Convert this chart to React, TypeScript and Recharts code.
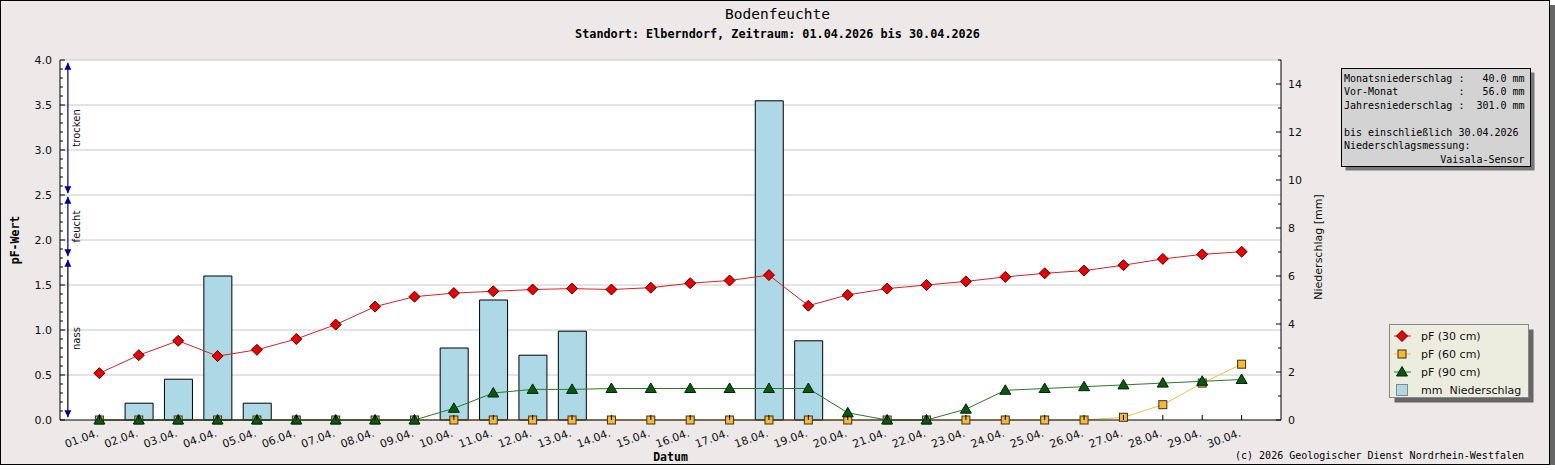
import { ComposedChart, Bar, Line, XAxis, YAxis, CartesianGrid, ReferenceLine } from "recharts";

const days = [
  "01.04.", "02.04.", "03.04.", "04.04.", "05.04.", "06.04.", "07.04.", "08.04.", "09.04.", "10.04.",
  "11.04.", "12.04.", "13.04.", "14.04.", "15.04.", "16.04.", "17.04.", "18.04.", "19.04.", "20.04.",
  "21.04.", "22.04.", "23.04.", "24.04.", "25.04.", "26.04.", "27.04.", "28.04.", "29.04.", "30.04.",
];
const pf30 = [
  0.52, 0.72, 0.88, 0.71, 0.78, 0.9, 1.06, 1.26, 1.37, 1.41,
  1.43, 1.45, 1.46, 1.45, 1.47, 1.52, 1.55, 1.61, 1.27, 1.39,
  1.46, 1.5, 1.54, 1.59, 1.63, 1.66, 1.72, 1.79, 1.84, 1.87,
];
const pf60 = [
  0, 0, 0, 0, 0, 0, 0, 0, 0, 0,
  0, 0, 0, 0, 0, 0, 0, 0, 0, 0,
  0, 0, 0, 0, 0, 0, 0.03, 0.17, 0.41, 0.62,
];
const pf90 = [
  0, 0, 0, 0, 0, 0, 0, 0, 0, 0.13,
  0.3, 0.34, 0.34, 0.35, 0.35, 0.35, 0.35, 0.35, 0.35, 0.08,
  0, 0, 0.12, 0.33, 0.35, 0.37, 0.39, 0.41, 0.43, 0.45,
];
const rain = [
  0, 0.7, 1.7, 6.0, 0.7, 0, 0, 0, 0, 3.0,
  5.0, 2.7, 3.7, 0, 0, 0, 0, 13.3, 3.3, 0,
  0, 0, 0, 0, 0, 0, 0, 0, 0, 0,
];

const pfTickLabels = ["0.0", "0.5", "1.0", "1.5", "2.0", "2.5", "3.0", "3.5", "4.0"];
const pfGrid = [0.5, 1, 1.5, 2, 2.5, 3, 3.5, 4];
const mmTickLabels = ["0", "2", "4", "6", "8", "10", "12", "14"];

const zones = [
  { name: "trocken", top: 3.97, bottom: 2.52, color: "#00008b" },
  { name: "feucht", top: 2.48, bottom: 1.82, color: "#00008b" },
  { name: "nass", top: 1.78, bottom: 0.03, color: "#000" },
];

const infoLines = [
  "Monatsniederschlag :   40.0 mm",
  "Vor-Monat          :   56.0 mm",
  "Jahresniederschlag :  301.0 mm",
  "",
  "bis einschließlich 30.04.2026",
  "Niederschlagsmessung:",
  "                Vaisala-Sensor",
];

const legendItems = [
  { label: "pF (30 cm)", kind: "diamond", color: "#dd2222" },
  { label: "pF (60 cm)", kind: "square", color: "#f2c040" },
  { label: "pF (90 cm)", kind: "triangle", color: "#2a7a2a" },
  { label: "mm  Niederschlag", kind: "bar", color: "#add8e6" },
];

const data = days.map((label, i) => ({
  day: i + 1,
  label,
  pf30: pf30[i],
  pf60: pf60[i],
  pf90: pf90[i],
  rain: rain[i],
}));
const dayTicks = data.map((d) => d.day);
// minor ticks every 0.1 on the pF axis, every 1 mm on the right axis
const pfTicks = Array.from({ length: 41 }, (_, i) => i / 10);
const mmTicks = Array.from({ length: 16 }, (_, i) => i);

const SANS = "'DejaVu Sans', sans-serif";
const MONO = "'DejaVu Sans Mono', monospace";

const Diamond = ({ cx, cy }: any) => (
  <polygon
    points={`${cx},${cy - 5.5} ${cx + 5.5},${cy} ${cx},${cy + 5.5} ${cx - 5.5},${cy}`}
    fill="#ee0000"
    stroke="#500"
    strokeWidth={1}
  />
);
const Square = ({ cx, cy }: any) => (
  <rect x={cx - 4} y={cy - 4} width={8} height={8} fill="#fbb829" stroke="#333" strokeWidth={1} />
);
const Triangle = ({ cx, cy }: any) => (
  <polygon
    points={`${cx},${cy - 5.5} ${cx + 5.5},${cy + 4} ${cx - 5.5},${cy + 4}`}
    fill="#0b5a0b"
    stroke="#021"
    strokeWidth={1}
  />
);

function XTick({ x, y, payload }: any) {
  const ty = y + 16;
  return (
    <g>
      <line x1={x} y1={y - 5} x2={x} y2={y} stroke="#000" />
      <text
        x={x}
        y={ty}
        transform={`rotate(-20 ${x} ${ty})`}
        textAnchor="end"
        fontFamily={SANS}
        fontSize={11}
        fill="#111"
      >
        {days[payload.value - 1]}
      </text>
    </g>
  );
}

function PfTick({ x, y, payload }: any) {
  const step = Math.round(payload.value * 10);
  const major = step % 5 === 0;
  return (
    <g>
      <line x1={x} y1={y} x2={x + (major ? 5 : 3)} y2={y} stroke="#000" />
      {major && (
        <text x={x - 8} y={y + 4} textAnchor="end" fontFamily={SANS} fontSize={11} fill="#111">
          {pfTickLabels[step / 5]}
        </text>
      )}
    </g>
  );
}

function MmTick({ x, y, payload }: any) {
  const major = payload.value % 2 === 0;
  return (
    <g>
      <line x1={x - (major ? 5 : 3)} y1={y} x2={x} y2={y} stroke="#000" />
      {major && (
        <text x={x + 7} y={y + 4} textAnchor="start" fontFamily={SANS} fontSize={11} fill="#111">
          {mmTickLabels[payload.value / 2]}
        </text>
      )}
    </g>
  );
}

function ZoneArrow({ x1, y1, y2, name, color }: any) {
  const top = Math.min(y1, y2);
  const bottom = Math.max(y1, y2);
  const mid = (top + bottom) / 2;
  return (
    <g>
      <line x1={x1} y1={top} x2={x1} y2={bottom} stroke={color} strokeWidth={1.2} />
      <polygon points={`${x1},${top} ${x1 + 3.5},${top + 7} ${x1 - 3.5},${top + 7}`} fill="#0000a0" />
      <polygon points={`${x1},${bottom} ${x1 + 3.5},${bottom - 7} ${x1 - 3.5},${bottom - 7}`} fill="#0000a0" />
      <text
        x={x1 + 12}
        y={mid}
        transform={`rotate(-90 ${x1 + 12} ${mid})`}
        textAnchor="middle"
        fontFamily={SANS}
        fontSize={10}
        fill="#111"
      >
        {name}
      </text>
    </g>
  );
}

function LegendSymbol({ kind, color, cx, cy }: any) {
  if (kind === "bar") {
    return <rect x={cx - 5.5} y={cy - 5.5} width={11} height={11} fill={color} stroke="#888" />;
  }
  return (
    <g>
      <line x1={cx - 8} y1={cy} x2={cx + 9} y2={cy} stroke={color} />
      {kind === "diamond" && <Diamond cx={cx} cy={cy} />}
      {kind === "square" && <Square cx={cx} cy={cy} />}
      {kind === "triangle" && <Triangle cx={cx} cy={cy} />}
    </g>
  );
}

export default function App() {
  return (
    <div
      style={{
        position: "relative",
        width: 1550,
        height: 465,
        background: "#ece9e8",
        boxShadow: "inset 0 0 0 1px #000, 5px 5px 0 #666",
      }}
    >
      <style>{"body{margin:0}"}</style>
      <ComposedChart width={1550} height={465} data={data} margin={{ top: 60, right: 0, bottom: 0, left: 0 }}>
        <CartesianGrid yAxisId="pf" vertical={false} horizontalValues={pfGrid} stroke="#c8c8c8" fill="#fff" />
        <XAxis
          dataKey="day"
          type="number"
          domain={[0, 31]}
          ticks={dayTicks}
          interval={0}
          height={45}
          tickSize={0}
          tickMargin={0}
          tickLine={false}
          axisLine={{ stroke: "#000" }}
          tick={<XTick />}
          label={{
            content: ({ viewBox }: any) => (
              <text
                x={viewBox.x + viewBox.width / 2}
                y={viewBox.y + 41}
                textAnchor="middle"
                fontFamily={MONO}
                fontWeight="bold"
                fontSize={11.5}
                fill="#000"
              >
                Datum
              </text>
            ),
          }}
        />
        <YAxis
          yAxisId="pf"
          orientation="left"
          width={60}
          domain={[0, 4]}
          ticks={pfTicks}
          interval={0}
          tickSize={0}
          tickMargin={0}
          tickLine={false}
          axisLine={{ stroke: "#000" }}
          tick={<PfTick />}
          label={{
            content: ({ viewBox }: any) => {
              const x = viewBox.x + 19;
              const y = viewBox.y + viewBox.height / 2;
              return (
                <text
                  x={x}
                  y={y}
                  transform={`rotate(-90 ${x} ${y})`}
                  textAnchor="middle"
                  fontFamily={MONO}
                  fontWeight="bold"
                  fontSize={11.5}
                  fill="#000"
                >
                  pF-Wert
                </text>
              );
            },
          }}
        />
        <YAxis
          yAxisId="mm"
          orientation="right"
          width={269}
          domain={[0, 15]}
          ticks={mmTicks}
          interval={0}
          tickSize={0}
          tickMargin={0}
          tickLine={false}
          axisLine={{ stroke: "#000" }}
          tick={<MmTick />}
          label={{
            content: ({ viewBox }: any) => {
              const x = viewBox.x + 41;
              const y = viewBox.y + viewBox.height / 2 + 7;
              return (
                <text
                  x={x}
                  y={y}
                  transform={`rotate(-90 ${x} ${y})`}
                  textAnchor="middle"
                  fontFamily={SANS}
                  fontSize={11}
                  fill="#111"
                >
                  Niederschlag [mm]
                </text>
              );
            },
          }}
        />
        {zones.map((z) => (
          <ReferenceLine
            key={z.name}
            yAxisId="pf"
            segment={[
              { x: 0.2, y: z.top },
              { x: 0.2, y: z.bottom },
            ]}
            shape={(p: any) => <ZoneArrow {...p} name={z.name} color={z.color} />}
          />
        ))}
        <Bar
          yAxisId="mm"
          dataKey="rain"
          barSize={28}
          fill="#add8e6"
          stroke="#000"
          strokeWidth={1}
          isAnimationActive={false}
        />
        <Line
          yAxisId="pf"
          type="linear"
          dataKey="pf30"
          stroke="#dd2222"
          strokeWidth={1}
          dot={(p: any) => <Diamond key={`d30-${p.index}`} cx={p.cx} cy={p.cy} />}
          activeDot={false}
          isAnimationActive={false}
        />
        <Line
          yAxisId="pf"
          type="linear"
          dataKey="pf60"
          stroke="#f2c040"
          strokeWidth={1}
          dot={(p: any) => <Square key={`d60-${p.index}`} cx={p.cx} cy={p.cy} />}
          activeDot={false}
          isAnimationActive={false}
        />
        <Line
          yAxisId="pf"
          type="linear"
          dataKey="pf90"
          stroke="#2a7a2a"
          strokeWidth={1}
          dot={(p: any) => <Triangle key={`d90-${p.index}`} cx={p.cx} cy={p.cy} />}
          activeDot={false}
          isAnimationActive={false}
        />
      </ComposedChart>
      <svg
        width={1555}
        height={470}
        style={{ position: "absolute", left: 0, top: 0, pointerEvents: "none", overflow: "visible" }}
      >
        <text x={777.5} y={19} textAnchor="middle" fontFamily={MONO} fontSize={14.5} fill="#000">
          Bodenfeuchte
        </text>
        <text x={777.5} y={38} textAnchor="middle" fontFamily={MONO} fontWeight="bold" fontSize={11.8} fill="#000">
          Standort: Elberndorf, Zeitraum: 01.04.2026 bis 30.04.2026
        </text>
        <text x={1524} y={459} textAnchor="end" fontFamily={MONO} fontSize={10} fill="#000">
          (c) 2026 Geologischer Dienst Nordrhein-Westfalen
        </text>

        <rect x={1345.5} y={72.5} width={189} height={98} fill="#777" />
        <rect x={1341.5} y={68.5} width={189} height={98} fill="#d3d3d3" stroke="#000" />
        {infoLines.map((line, i) => (
          <text
            key={i}
            x={1344}
            y={81.5 + i * 13.5}
            fontFamily={MONO}
            fontSize={10}
            fill="#000"
            style={{ whiteSpace: "pre" }}
          >
            {line}
          </text>
        ))}

        <rect x={1394.5} y={329.5} width={139} height={73} fill="#666" />
        <rect x={1389.5} y={324.5} width={139} height={73} fill="#ededdf" stroke="#888" />
        {legendItems.map((item, i) => (
          <g key={item.label}>
            <LegendSymbol kind={item.kind} color={item.color} cx={1402} cy={336 + i * 18} />
            <text
              x={1421}
              y={340 + i * 18}
              fontFamily={SANS}
              fontSize={11}
              fill="#111"
              style={{ whiteSpace: "pre" }}
            >
              {item.label}
            </text>
          </g>
        ))}
      </svg>
    </div>
  );
}
